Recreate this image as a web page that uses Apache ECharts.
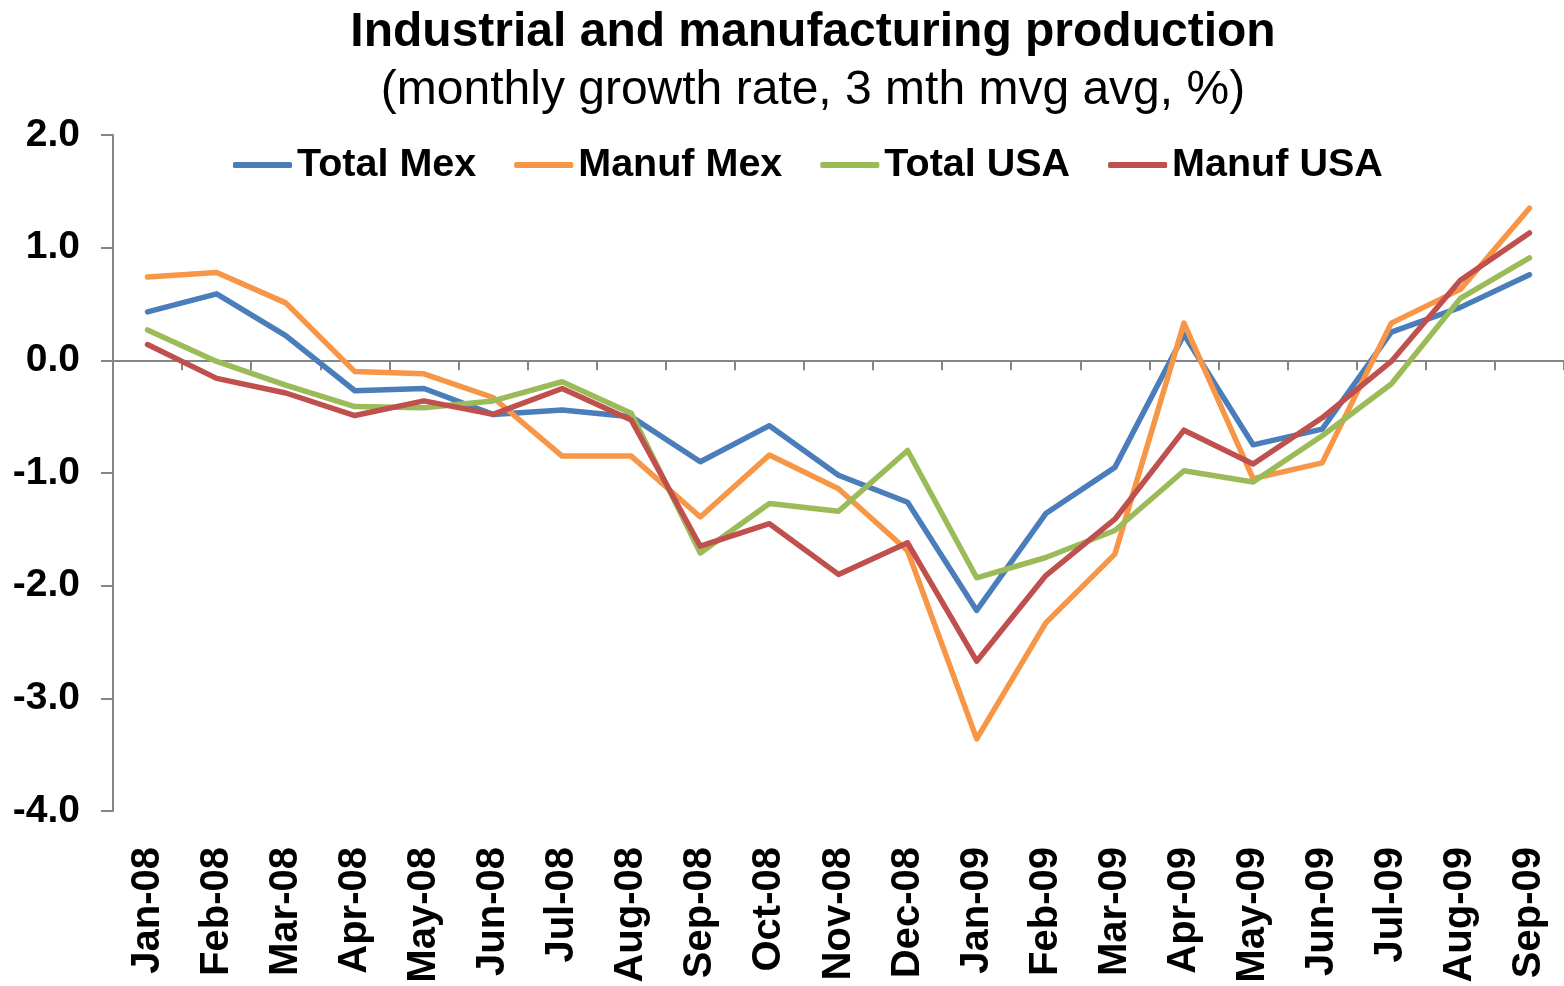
<!DOCTYPE html>
<html>
<head>
<meta charset="utf-8">
<script src="https://cdn.jsdelivr.net/npm/echarts@6/dist/echarts.min.js"></script>
<style>
  html, body { margin: 0; padding: 0; background: #fff; }
  #chart { width: 1564px; height: 986px; }
</style>
</head>
<body>
<div id="chart"></div>
<script>
// monthly growth rate, 3 mth mvg avg, %
const months = ['Jan-08', 'Feb-08', 'Mar-08', 'Apr-08', 'May-08', 'Jun-08', 'Jul-08',
  'Aug-08', 'Sep-08', 'Oct-08', 'Nov-08', 'Dec-08', 'Jan-09', 'Feb-09', 'Mar-09',
  'Apr-09', 'May-09', 'Jun-09', 'Jul-09', 'Aug-09', 'Sep-09'];

const totalMex = [0.43, 0.59, 0.22, -0.27, -0.25, -0.48, -0.44, -0.50, -0.90, -0.58, -1.02,
  -1.26, -2.22, -1.36, -0.95, 0.23, -0.75, -0.61, 0.25, 0.47, 0.76];
const manufMex = [0.74, 0.78, 0.51, -0.10, -0.12, -0.33, -0.85, -0.85, -1.39, -0.84, -1.14,
  -1.69, -3.36, -2.33, -1.72, 0.33, -1.05, -0.91, 0.33, 0.63, 1.35];
const totalUsa = [0.27, -0.01, -0.22, -0.41, -0.42, -0.36, -0.19, -0.47, -1.71, -1.27, -1.34,
  -0.80, -1.93, -1.75, -1.51, -0.98, -1.08, -0.67, -0.21, 0.55, 0.91];
const manufUsa = [0.14, -0.16, -0.29, -0.49, -0.36, -0.48, -0.25, -0.53, -1.65, -1.45, -1.90,
  -1.62, -2.67, -1.91, -1.41, -0.62, -0.92, -0.51, -0.01, 0.71, 1.13];

const seriesNames = ['Total Mex', 'Manuf Mex', 'Total USA', 'Manuf USA'];
const seriesColors = ['#4A7EBB', '#F79646', '#9BBB59', '#C0504D'];

const FONT = '"Liberation Sans", Arial, sans-serif';
const AXIS_GREY = '#868686';

const chart = echarts.init(document.getElementById('chart'));

const option = {
  animation: false,
  backgroundColor: '#fff',
  title: {
    text: 'Industrial and manufacturing production',
    subtext: '(monthly growth rate, 3 mth mvg avg, %)',
    left: 808,
    textAlign: 'center',
    top: 4,
    itemGap: 10,
    textStyle: { fontFamily: FONT, fontSize: 48, fontWeight: 'bold', color: '#000' },
    subtextStyle: { fontFamily: FONT, fontSize: 48, fontWeight: 'normal', color: '#000' }
  },
  legend: {
    data: seriesNames,
    left: 228,
    top: 140,
    icon: 'roundRect',
    itemWidth: 59,
    itemHeight: 6,
    itemGap: 38,
    textStyle: { fontFamily: FONT, fontSize: 39.5, fontWeight: 'bold', color: '#000' }
  },
  grid: { left: 113, right: -2, top: 135, height: 676, containLabel: false },
  xAxis: [
    {
      type: 'category',
      data: months,
      position: 'bottom',
      axisLine: { show: false, onZero: false },
      axisTick: { show: false },
      axisLabel: {
        rotate: 90,
        margin: 36,
        fontFamily: FONT,
        fontSize: 40,
        fontWeight: 'bold',
        color: '#000',
        interval: 0
      }
    },
    {
      // zero line with the category ticks
      type: 'category',
      data: months,
      position: 'bottom',
      axisLine: { show: true, onZero: true, lineStyle: { color: AXIS_GREY, width: 2 } },
      axisTick: { show: true, inside: false, length: 10, lineStyle: { color: AXIS_GREY, width: 2 } },
      axisLabel: { show: false }
    }
  ],
  yAxis: {
    type: 'value',
    min: -4,
    max: 2,
    interval: 1,
    axisLine: { show: true, lineStyle: { color: AXIS_GREY, width: 2 } },
    axisTick: { show: true, length: 12, lineStyle: { color: AXIS_GREY, width: 2 } },
    splitLine: { show: false },
    axisLabel: {
      margin: 33,
      fontFamily: FONT,
      fontSize: 39,
      fontWeight: 'bold',
      color: '#000',
      formatter: v => v.toFixed(1)
    }
  },
  series: [totalMex, manufMex, totalUsa, manufUsa].map((values, i) => ({
    name: seriesNames[i],
    type: 'line',
    data: values,
    showSymbol: false,
    symbol: 'none',
    lineStyle: { color: seriesColors[i], width: 5.5, cap: 'round', join: 'round' },
    itemStyle: { color: seriesColors[i] }
  }))
};

chart.setOption(option);
</script>
</body>
</html>
